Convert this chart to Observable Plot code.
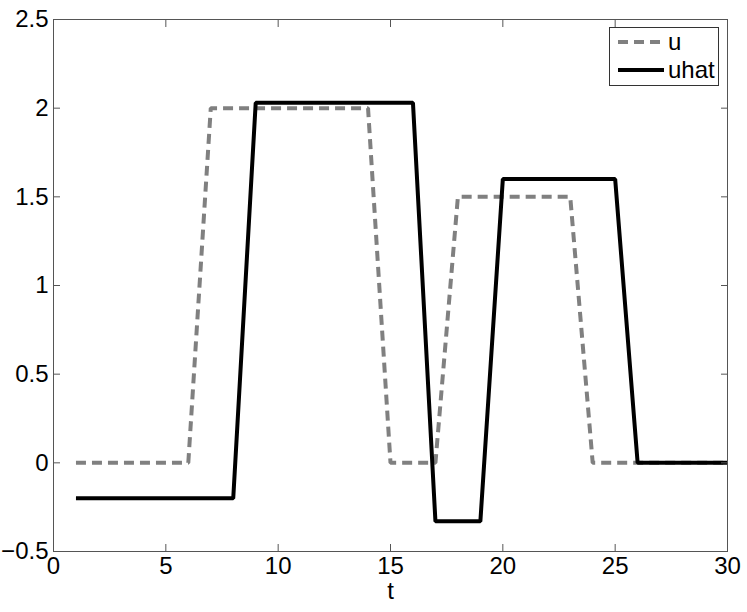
<!DOCTYPE html>
<html><head><meta charset="utf-8">
<script src="https://cdn.jsdelivr.net/npm/d3@7"></script>
<script src="https://cdn.jsdelivr.net/npm/@observablehq/plot@0.6"></script>
<style>
body{margin:0;background:#fff;}
#wrap{position:relative;width:747px;height:612px;font-family:"Liberation Sans",Arial,Helvetica,sans-serif;}
#legend{position:absolute;left:609px;top:27px;width:110px;height:59px;border:1px solid #333;background:#fff;box-sizing:border-box;}
</style>
</head><body><div id="wrap"></div>
<script>
const t    = [1,2,3,4,5,6,7,8,9,10,11,12,13,14,15,16,17,18,19,20,21,22,23,24,25,26,27,28,29,30];
const u    = [0,0,0,0,0,0,2,2,2,2,2,2,2,2,0,0,0,1.5,1.5,1.5,1.5,1.5,1.5,0,0,0,0,0,0,0];
const uhat = [-0.2,-0.2,-0.2,-0.2,-0.2,-0.2,-0.2,-0.2,2.03,2.03,2.03,2.03,2.03,2.03,2.03,2.03,-0.33,-0.33,-0.33,1.6,1.6,1.6,1.6,1.6,1.6,0,0,0,0,0];
const xTicks = [0,5,10,15,20,25,30];
const yTicks = [-0.5,0,0.5,1,1.5,2,2.5];
const seriesNames = ["u","uhat"];
const xLabel = "t";

const data = t.map((d,i)=>({t:d,u:u[i],uhat:uhat[i]}));
const fmt = d => d < 0 ? "\u2212" + Math.abs(d) : String(d);
const axisCol = "#555";
const fs = 24;

const chart = Plot.plot({
  width: 747, height: 612,
  marginLeft: 53, marginRight: 20, marginTop: 19, marginBottom: 61,
  style: {fontFamily: '"Liberation Sans",Arial,Helvetica,sans-serif', fontSize: fs + "px", background: "#fff", color: "#000"},
  x: {domain: [0,30]},
  y: {domain: [-0.5,2.5]},
  marks: [
    Plot.line(data, {x:"t", y:"u", stroke:"#808080", strokeWidth:4, strokeDasharray:"10,6", strokeLinecap:"butt", strokeLinejoin:"miter"}),
    Plot.line(data, {x:"t", y:"uhat", stroke:"#000", strokeWidth:4, strokeLinecap:"butt", strokeLinejoin:"miter"}),
    Plot.frame({stroke: axisCol, strokeWidth: 1}),
    Plot.axisX({anchor:"bottom", ticks:xTicks, tickSize:-7, text:null, stroke:axisCol, label:null}),
    Plot.axisX({anchor:"top", ticks:xTicks, tickSize:-7, text:null, stroke:axisCol, label:null}),
    Plot.axisY({anchor:"left", ticks:yTicks, tickSize:-7, text:null, stroke:axisCol, label:null}),
    Plot.axisY({anchor:"right", ticks:yTicks, tickSize:-7, text:null, stroke:axisCol, label:null}),
    Plot.axisX({anchor:"bottom", ticks:xTicks, tickSize:0, tickPadding:5, tickFormat:fmt, fill:"#000", fontSize:fs, label:null}),
    Plot.axisY({anchor:"left", ticks:yTicks, tickSize:0, tickPadding:5, tickFormat:fmt, fill:"#000", fontSize:fs, label:null}),
    Plot.text([xLabel], {text:d=>d, frameAnchor:"bottom", dy:47, fontSize:fs, fill:"#000"})
  ]
});
const wrap = document.getElementById("wrap");
wrap.appendChild(chart);

const leg = document.createElement("div");
leg.id = "legend";
leg.innerHTML = `<svg width="108" height="57" style="display:block">
  <line x1="8" x2="54" y1="14" y2="14" stroke="#808080" stroke-width="4" stroke-dasharray="10,6"/>
  <text x="58" y="14" dy="0.35em" font-size="${fs}" fill="#000">${seriesNames[0]}</text>
  <line x1="8" x2="54" y1="42" y2="42" stroke="#000" stroke-width="4"/>
  <text x="58" y="42" dy="0.35em" font-size="${fs}" fill="#000">${seriesNames[1]}</text>
</svg>`;
wrap.appendChild(leg);
</script>
</body></html>
